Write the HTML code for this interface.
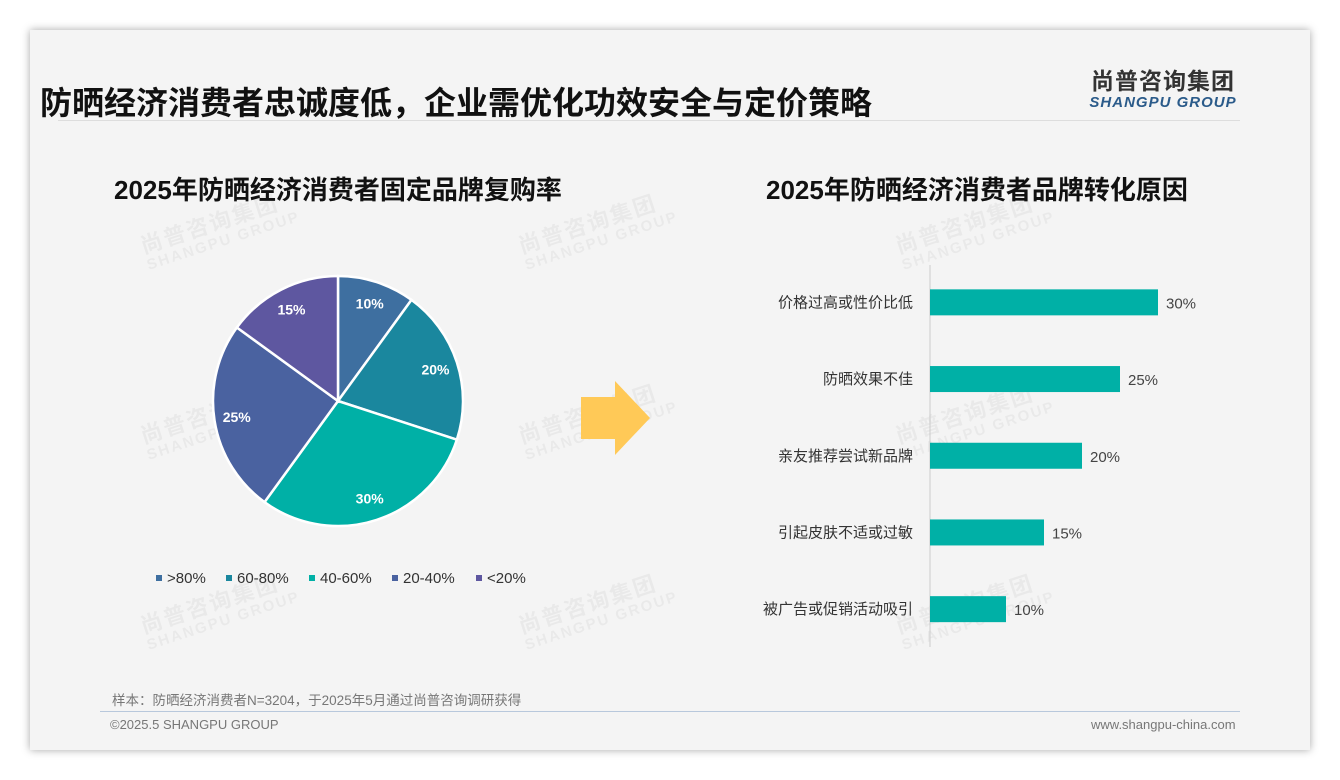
<!DOCTYPE html>
<html><head><meta charset="utf-8">
<style>
body{margin:0;width:1340px;height:780px;background:#fff;font-family:"Liberation Sans","Noto Sans CJK SC",sans-serif;position:relative;overflow:hidden}
.card{position:absolute;left:30px;top:30px;width:1280px;height:720px;background:#f4f4f4;box-shadow:0 0 8px rgba(0,0,0,.35)}
.abs{position:absolute}
.wm{position:absolute;color:rgba(0,0,0,.045);font-weight:bold;transform:rotate(-18deg);line-height:1.1;text-align:left}
.wm .a{font-size:22px;letter-spacing:2px}.wm .b{font-size:15px;letter-spacing:2px}
</style></head><body>
<div class="card"></div>
<div class="abs" style="left:40px;top:78px;font-size:32px;font-weight:bold;color:#111;letter-spacing:0px">防晒经济消费者忠诚度低，企业需优化功效安全与定价策略</div>
<div class="abs" style="left:1088px;top:62px;text-align:center;width:150px">
<div style="font-size:23px;font-weight:bold;color:#333;letter-spacing:1px">尚普咨询集团</div>
<div style="font-size:15px;font-weight:bold;font-style:italic;color:#2b5b8a;letter-spacing:1px;margin-top:-2px">SHANGPU GROUP</div></div>
<div class="abs" style="left:58px;top:120px;width:1182px;height:1px;background:#ddd"></div>
<div id="wms"></div>
<div class="abs" style="left:114px;top:170px;font-size:26px;font-weight:bold;color:#111">2025年防晒经济消费者固定品牌复购率</div>
<div class="abs" style="left:766px;top:170px;font-size:26px;font-weight:bold;color:#111">2025年防晒经济消费者品牌转化原因</div>
<svg class="abs" style="left:0;top:0" width="1340" height="780" id="chart">
<polygon points="581,397 615,397 615,381 650,418 615,455 615,439 581,439" fill="#ffc957"/>
</svg>
<div class="abs" style="left:112px;top:689px;font-size:13.5px;color:#777">样本：防晒经济消费者N=3204，于2025年5月通过尚普咨询调研获得</div>
<div class="abs" style="left:100px;top:711px;width:1140px;height:1px;background:#b8c8dc"></div>
<div class="abs" style="left:110px;top:717px;font-size:13px;color:#777">©2025.5 SHANGPU GROUP</div>
<div class="abs" style="left:1091px;top:717px;font-size:13px;color:#777">www.shangpu-china.com</div>
<script>
const pieCats=[">80%","60-80%","40-60%","20-40%","<20%"];
const pieVals=[10,20,30,25,15];
const pieColors=["#3e6fa0","#1a879e","#00b0a6","#4a62a0","#5e57a0"];
const barCats=["价格过高或性价比低","防晒效果不佳","亲友推荐尝试新品牌","引起皮肤不适或过敏","被广告或促销活动吸引"];
const barVals=[30,25,20,15,10];
(function(){
const NS="http://www.w3.org/2000/svg";
const svg=document.getElementById('chart');
function mk(t,a){const e=document.createElementNS(NS,t);for(const k in a)e.setAttribute(k,a[k]);svg.appendChild(e);return e;}
const wpos=[[140,210],[518,210],[895,210],[140,400],[518,400],[895,400],[140,590],[518,590],[895,590]];
const wc=document.getElementById('wms');
wpos.forEach(p=>{const d=document.createElement('div');d.className='wm';d.style.left=p[0]+'px';d.style.top=p[1]+'px';d.innerHTML='<div class="a">尚普咨询集团</div><div class="b">SHANGPU GROUP</div>';


wc.appendChild(d);});
const cx=338,cy=401,r=125;const tot=pieVals.reduce((a,b)=>a+b,0);let ang=0;
pieVals.forEach((v,i)=>{const a0=ang/tot*2*Math.PI,a1=(ang+v)/tot*2*Math.PI;ang+=v;
const x0=cx+r*Math.sin(a0),y0=cy-r*Math.cos(a0),x1=cx+r*Math.sin(a1),y1=cy-r*Math.cos(a1);
const p=mk('path',{d:`M${cx},${cy}L${x0},${y0}A${r},${r} 0 ${a1-a0>Math.PI?1:0} 1 ${x1},${y1}Z`,fill:pieColors[i],stroke:'#fff','stroke-width':2.5});


const am=(a0+a1)/2,lr=r*0.82;
const t=mk('text',{x:cx+lr*Math.sin(am),y:cy-lr*Math.cos(am)+5,'text-anchor':'middle','font-size':14,'font-weight':'bold',fill:'#fff'});t.textContent=v+'%';

});
const lx=[156,226,309,392,476];
pieCats.forEach((c,i)=>{const s=mk('rect',{x:lx[i],y:575,width:6,height:6,fill:pieColors[i]});


const t=mk('text',{x:lx[i]+11,y:583,'font-size':15,fill:'#333'});t.textContent=c;

});
const bx0=930,scale=7.6,btop=265,step=76.7,bh=26;
const ax=mk('line',{x1:bx0,y1:btop,x2:bx0,y2:647,stroke:'#ccc','stroke-width':1});


barCats.forEach((c,i)=>{const yc=btop+step*(i+0.5)-1;
const b=mk('rect',{x:bx0,y:yc-bh/2,width:barVals[i]*scale,height:bh,fill:'#00b0a6'});


const l=mk('text',{x:bx0-17,y:yc+5,'text-anchor':'end','font-size':15,fill:'#333'});l.textContent=c;


const v=mk('text',{x:bx0+barVals[i]*scale+8,y:yc+6,'font-size':15,fill:'#444'});v.textContent=barVals[i]+'%';

});
})();
</script>
</body></html>
